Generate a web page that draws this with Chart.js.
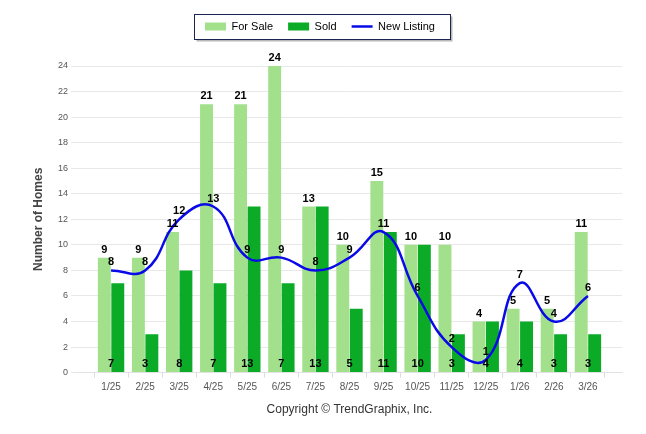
<!DOCTYPE html>
<html>
<head>
<meta charset="utf-8">
<script src="https://cdn.jsdelivr.net/npm/chart.js@4.4.1/dist/chart.umd.min.js"></script>
<style>
  html, body { margin: 0; padding: 0; background: #fff; }
  #wrap { width: 646px; height: 434px; }
</style>
</head>
<body>
<div id="wrap"><canvas id="graficoCasas" width="646" height="434"></canvas></div>
<script>
// Meses (categorias do eixo X)
const meses = ['1/25', '2/25', '3/25', '4/25', '5/25', '6/25', '7/25', '8/25', '9/25', '10/25', '11/25', '12/25', '1/26', '2/26', '3/26'];

// Valores
const paraVenda = [9, 9, 11, 21, 21, 24, 13, 10, 15, 10, 10, 4, 5, 5, 11];
const vendidos = [7, 3, 8, 7, 13, 7, 13, 5, 11, 10, 3, 4, 4, 3, 3];
const novosAnuncios = [8, 8, 12, 13, 9, 9, 8, 9, 11, 6, 2, 1, 7, 4, 6];

// Marcas do eixo Y
const ticksY = [0, 2, 4, 6, 8, 10, 12, 14, 16, 18, 20, 22, 24];

// Uma posição vazia em cada ponta do eixo X, como no original
const pad = arr => [null, ...arr, null];
const rotulos = ['', ...meses, ''];

const fonte = "'Liberation Sans', Arial, sans-serif";

// Plugin: rótulos de valores sobre as barras e a linha
const rotulosValores = {
    id: 'rotulosValores',
    afterDatasetsDraw(chart) {
        const c = chart.ctx;
        const xScale = chart.scales.x;
        const yScale = chart.scales.y;
        c.save();
        c.font = 'bold 11px ' + fonte;
        c.fillStyle = '#000';
        c.textAlign = 'center';
        c.textBaseline = 'middle';
        const base = yScale.getPixelForValue(0);
        // Para venda: acima da barra
        chart.getDatasetMeta(0).data.forEach((bar, i) => {
            const v = chart.data.datasets[0].data[i];
            if (v == null) return;
            c.fillText(v, bar.x, bar.y - 8);
        });
        // Vendidos: junto à base, no centro da categoria
        chart.getDatasetMeta(1).data.forEach((bar, i) => {
            const v = chart.data.datasets[1].data[i];
            if (v == null) return;
            c.fillText(v, xScale.getPixelForValue(i), base - 9);
        });
        // Novos anúncios: acima do ponto
        chart.getDatasetMeta(2).data.forEach((pt, i) => {
            const v = chart.data.datasets[2].data[i];
            if (v == null) return;
            c.fillText(v, pt.x, pt.y - 8);
        });
        c.restore();
    }
};

// Plugin: moldura da legenda com sombra, e mais espaço abaixo dela
const molduraLegenda = {
    id: 'molduraLegenda',
    afterInit(chart) {
        const fitOrig = chart.legend.fit;
        chart.legend.fit = function () {
            fitOrig.call(this);
            this.height += 24;
        };
    },
    afterLayout(chart) {
        // legenda um pouco à esquerda, como no original
        chart.legend.left -= 5;
        chart.legend.right -= 5;
    },
    beforeDraw(chart) {
        const hb = chart.legend.legendHitBoxes;
        if (!hb || !hb.length) return;
        const first = hb[0], last = hb[hb.length - 1];
        const cy = first.top + first.height / 2;
        const x0 = Math.round(first.left - 11) + 0.5;
        const x1 = Math.round(last.left + last.width + 15) + 0.5;
        const y0 = Math.round(cy - 12.5) + 0.5;
        const y1 = Math.round(cy + 12.5) + 0.5;
        const c = chart.ctx;
        c.save();
        c.fillStyle = '#b8b8b8';
        c.fillRect(x0 + 2, y0 + 2, x1 - x0, y1 - y0);
        c.fillStyle = '#fff';
        c.fillRect(x0, y0, x1 - x0, y1 - y0);
        c.strokeStyle = '#1c2452';
        c.lineWidth = 1;
        c.strokeRect(x0, y0, x1 - x0, y1 - y0);
        c.restore();
    }
};

const ctx = document.getElementById('graficoCasas').getContext('2d');

const config = {
    data: {
        labels: rotulos,
        datasets: [{
            type: 'bar',
            label: 'For Sale',
            data: pad(paraVenda),
            backgroundColor: '#a2e08b',
            pointStyle: 'rect',
            barPercentage: 0.96,
            categoryPercentage: 0.79,
            order: 2
        }, {
            type: 'bar',
            label: 'Sold',
            data: pad(vendidos),
            backgroundColor: '#0bab27',
            pointStyle: 'rect',
            barPercentage: 0.96,
            categoryPercentage: 0.79,
            order: 2
        }, {
            type: 'line',
            label: 'New Listing',
            data: pad(novosAnuncios),
            borderColor: '#0a0ae8',
            backgroundColor: '#0a0ae8',
            borderWidth: 2.5,
            pointRadius: 0,
            pointStyle: 'line',
            tension: 0.45,
            order: 1
        }]
    },
    options: {
        responsive: false,
        animation: false,
        layout: { padding: { left: 28, right: 24, top: 6, bottom: 9 } },
        scales: {
            x: {
                offset: false,
                grid: { drawOnChartArea: false, drawTicks: true, tickLength: 5, color: '#dcdcdc' },
                border: { color: '#e2e2e2' },
                ticks: { color: '#555', font: { family: fonte, size: 10 }, padding: 4, autoSkip: false, maxRotation: 0 },
                title: {
                    display: true,
                    text: 'Copyright © TrendGraphix, Inc.',
                    color: '#333',
                    font: { family: fonte, size: 12 },
                    padding: { top: 5, bottom: 8 }
                }
            },
            y: {
                min: 0,
                max: 24,
                afterBuildTicks: s => { s.ticks = ticksY.map(v => ({ value: v })); },
                afterFit: s => { s.width = 49; },
                grid: { color: '#e8e8e8', drawTicks: true, tickLength: 6 },
                border: { display: false },
                ticks: { color: '#555', font: { family: fonte, size: 9 }, padding: 3 },
                title: {
                    display: true,
                    text: 'Number of Homes',
                    color: '#444',
                    font: { family: fonte, size: 12, weight: 'bold' },
                    padding: { top: 3, bottom: 0 }
                }
            }
        },
        plugins: {
            legend: {
                position: 'top',
                labels: {
                    usePointStyle: true,
                    pointStyleWidth: 21,
                    boxHeight: 8,
                    padding: 15,
                    color: '#000',
                    font: { family: fonte, size: 11 },
                    sort: (a, b) => a.datasetIndex - b.datasetIndex
                }
            },
            tooltip: { enabled: false }
        }
    },
    plugins: [rotulosValores, molduraLegenda]
};

const grafico = new Chart(ctx, config);
</script>
</body>
</html>
